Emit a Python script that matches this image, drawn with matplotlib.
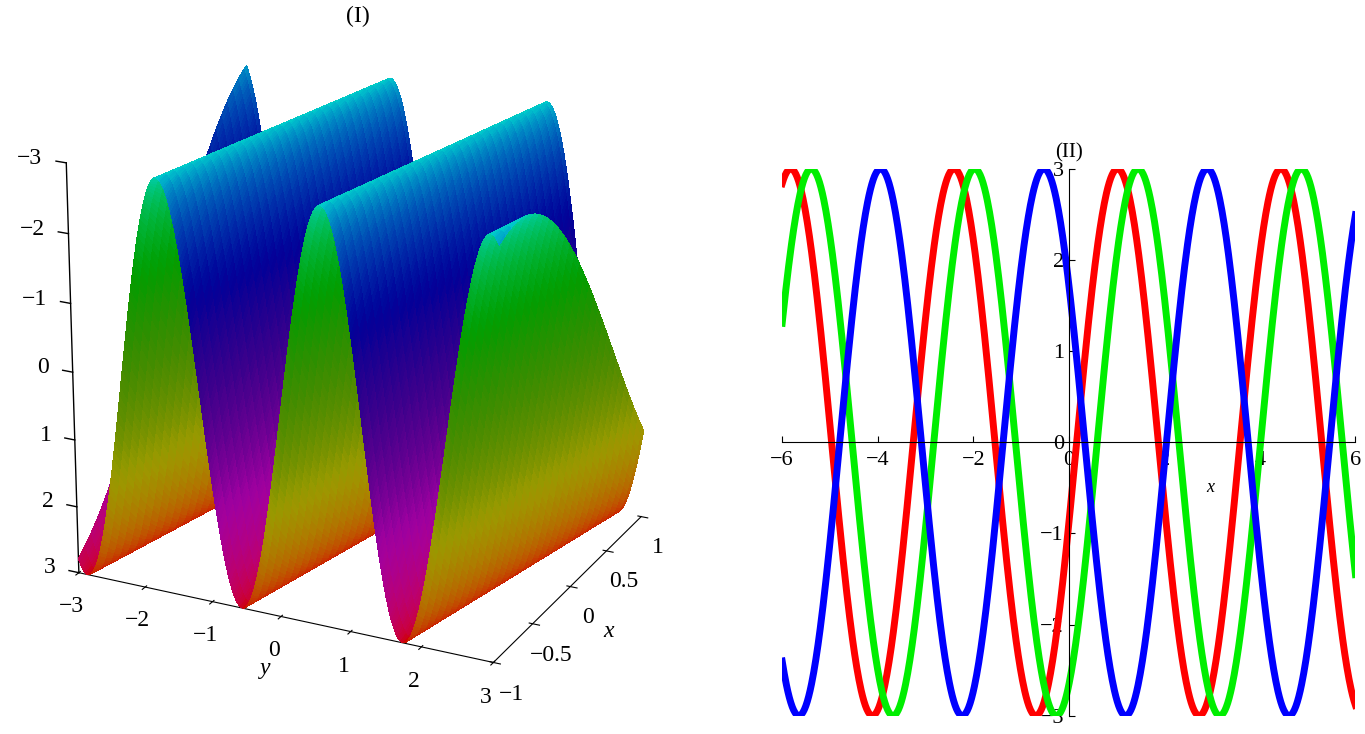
import numpy as np
import matplotlib
matplotlib.use("Agg")
import matplotlib.pyplot as plt
from matplotlib import cm
from mpl_toolkits.mplot3d import proj3d

plt.rcParams['font.family'] = ['Liberation Serif', 'DejaVu Serif']

# ---- panel (II) data: sinusoid parameters
series_colors = ["#ff0000", "#00ee00", "#0000ff"]
amplitudes = [3.0, 3.0, 3.0]
periods = [3.42, 3.42, 3.42]
peak_positions = [1.02, 1.45, -0.52]
xticks2 = [-6, -4, -2, 0, 2, 4, 6]
yticks2 = [-3, -2, -1, 0, 1, 2, 3]

# ---- panel (I) data: surface parameters
surf_amp = 3.0
surf_period_y = 2.3
surf_shift_per_x = 0.45
surf_phase = 0.3
yticks3 = [-3, -2, -1, 0, 1, 2, 3]
xticks3 = [-1, -0.5, 0, 0.5, 1]
zticks3 = [-3, -2, -1, 0, 1, 2, 3]

def lab(t):
    return str(t).replace('-', '\u2212')

fig = plt.figure(figsize=(13.65, 7.34), dpi=100)

# ---------------- 3D panel
ax3 = fig.add_axes([-0.02, 0.03, 0.56, 0.97], projection='3d')
X = np.linspace(-1, 1, 60)
Y = np.linspace(-3, 3, 400)
XX, YY = np.meshgrid(X, Y)
k = 2 * np.pi / surf_period_y
ph = k * (YY - surf_shift_per_x * XX) + surf_phase
ZZ = surf_amp * np.cos(ph)
frac = (ph / (2 * np.pi)) % 1.0
cols = cm.hsv(frac)
cols[..., :3] *= 0.55 + 0.25 * np.cos(2 * np.pi * frac)[..., None] ** 2
cols[..., :3] = np.clip(cols[..., :3], 0, 1)
ax3.plot_surface(YY, XX, ZZ, facecolors=cols, rstride=1, cstride=2,
                 linewidth=0, antialiased=False, shade=False)
ax3.set_xlim(-3, 3)
ax3.set_ylim(-1, 1)
ax3.set_zlim(3, -3)
ax3.set_box_aspect((1.1, 0.9, 1.05))
ax3.set_xticks(yticks3)
ax3.set_xticklabels([lab(t) for t in yticks3], fontsize=17)
ax3.set_yticks(xticks3)
ax3.set_yticklabels([lab(t) for t in xticks3], fontsize=17)
ax3.set_zticks([])
ax3.zaxis.line.set_color('none')
ax3.set_xlabel('y', fontsize=17, style='italic')
ax3.set_ylabel('x', fontsize=17, style='italic')
for a in (ax3.xaxis, ax3.yaxis, ax3.zaxis):
    a.pane.fill = False
    a.pane.set_edgecolor('none')
ax3.grid(False)
ax3.plot([-3, -3], [-1, -1], [3, -3], color='k', lw=1)
for t in zticks3:
    ax3.plot([-3, -3.15], [-1, -1], [t, t], color='k', lw=1)
ax3.view_init(elev=22, azim=-64)
fig.canvas.draw()
M = ax3.get_proj()
for t in zticks3:
    px, py, _ = proj3d.proj_transform(-3.35, -1, t, M)
    dx, dy = ax3.transData.transform((px, py))
    fx, fy = fig.transFigure.inverted().transform((dx, dy))
    fig.text(fx, fy, lab(t), fontsize=17, ha='right', va='center')
fig.text(0.262, 0.97, '(I)', fontsize=17, ha='center')

# ---------------- 2D panel
ax = fig.add_axes([0.573, 0.025, 0.42, 0.745])
xs = np.linspace(-6, 6, 800)
for c, A, P, x0 in zip(series_colors, amplitudes, periods, peak_positions):
    ax.plot(xs, A * np.cos(2 * np.pi / P * (xs - x0)), color=c, lw=5)
ax.set_xlim(-6, 6)
ax.set_ylim(-3, 3)
ax.spines['left'].set_position(('data', 0))
ax.spines['bottom'].set_position(('data', 0))
ax.spines['right'].set_visible(False)
ax.spines['top'].set_visible(False)
ax.set_xticks(xticks2)
ax.set_xticklabels([lab(t) for t in xticks2], fontsize=16)
ax.set_yticks(yticks2)
ax.set_yticklabels([lab(t) for t in yticks2], fontsize=16)
ax.tick_params(direction='in', length=4)
ax.xaxis.set_tick_params(pad=6)
ax.text(2.95, -0.55, 'x', fontsize=13, style='italic', ha='center')
ax.text(0, 3.12, '(II)', fontsize=15, ha='center')

fig.savefig('out.png', dpi=100)
